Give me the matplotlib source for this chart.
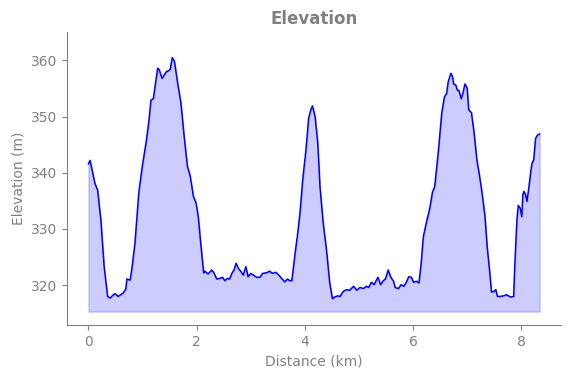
import matplotlib
matplotlib.use("Agg")
import matplotlib.pyplot as plt

distance_km = [0.00, 0.03, 0.12, 0.17, 0.23, 0.29, 0.355, 0.40, 0.45, 0.49, 0.55, 0.64, 0.69, 0.71, 0.77,
               0.80, 0.86, 0.93, 0.99, 1.06, 1.07, 1.12, 1.155, 1.20, 1.23, 1.28, 1.31, 1.36, 1.40, 1.44,
               1.49, 1.51, 1.55, 1.59, 1.65, 1.71, 1.77, 1.83, 1.88, 1.94, 1.99, 2.03, 2.07, 2.13, 2.15,
               2.21, 2.28, 2.32, 2.37, 2.42, 2.48, 2.52, 2.57, 2.61, 2.65, 2.69, 2.73, 2.77, 2.82, 2.86,
               2.91, 2.95, 3.00, 3.05, 3.11, 3.17, 3.22, 3.29, 3.35, 3.40, 3.46, 3.51, 3.57, 3.63, 3.68,
               3.72, 3.76, 3.82, 3.86, 3.91, 3.96, 4.02, 4.07, 4.11, 4.14, 4.19, 4.24, 4.28, 4.34, 4.40,
               4.46, 4.51, 4.55, 4.61, 4.65, 4.71, 4.77, 4.83, 4.90, 4.96, 5.02, 5.08, 5.14, 5.18, 5.23,
               5.28, 5.35, 5.40, 5.45, 5.49, 5.54, 5.59, 5.64, 5.67, 5.73, 5.78, 5.83, 5.88, 5.92, 5.97,
               6.01, 6.06, 6.11, 6.15, 6.19, 6.25, 6.31, 6.36, 6.40, 6.47, 6.53, 6.58, 6.62, 6.65, 6.70,
               6.73, 6.75, 6.79, 6.82, 6.85, 6.89, 6.92, 6.96, 7.00, 7.03, 7.08, 7.13, 7.18, 7.22, 7.26,
               7.30, 7.33, 7.37, 7.42, 7.45, 7.50, 7.53, 7.56, 7.61, 7.67, 7.73, 7.78, 7.82, 7.86, 7.88,
               7.92, 7.945, 7.98, 8.01, 8.03, 8.05, 8.08, 8.105, 8.14, 8.18, 8.20, 8.23, 8.265, 8.30, 8.34]

elevation_m = [341.6, 342.2, 338.1, 336.9, 331.6, 323.3, 318.0, 317.7, 318.2, 318.5, 318.0, 318.6, 319.3, 321.1, 320.9,
               322.7, 327.5, 336.4, 340.8, 345.2, 345.7, 349.4, 352.9, 353.2, 355.3, 358.6, 358.3, 356.8, 357.4, 358.0,
               358.2, 358.4, 360.5, 359.8, 355.9, 352.4, 346.4, 341.1, 339.5, 335.8, 334.6, 332.2, 328.0, 322.2, 322.5,
               322.0, 322.7, 322.2, 321.1, 321.2, 321.4, 320.8, 321.2, 321.1, 322.1, 322.7, 323.9, 323.0, 322.4, 321.8,
               323.3, 321.5, 322.1, 321.8, 321.4, 321.4, 322.1, 322.2, 322.5, 322.1, 322.3, 321.9, 321.2, 320.6, 321.1,
               320.8, 320.8, 325.7, 328.6, 332.8, 338.7, 344.0, 349.7, 351.2, 351.9, 350.0, 345.2, 337.5, 331.0, 326.3,
               320.4, 317.6, 317.9, 318.1, 318.0, 318.9, 319.2, 319.1, 319.8, 319.1, 319.6, 319.4, 319.8, 319.6, 320.5,
               320.1, 321.4, 320.1, 320.8, 321.1, 322.7, 321.4, 320.7, 319.6, 319.4, 320.1, 319.8, 320.6, 321.5, 321.4,
               320.5, 320.7, 320.4, 323.9, 328.6, 331.3, 333.7, 336.6, 337.5, 344.0, 350.6, 353.5, 354.1, 356.2, 357.7,
               357.1, 355.8, 355.6, 354.7, 354.6, 353.2, 354.1, 355.8, 355.1, 351.2, 350.7, 347.0, 342.3, 340.0, 337.5,
               334.6, 332.2, 326.9, 322.1, 318.8, 318.9, 319.2, 318.0, 318.0, 318.1, 318.3, 318.0, 317.9, 318.0, 323.3,
               331.6, 334.2, 333.7, 332.2, 336.1, 336.7, 336.1, 334.9, 337.3, 340.5, 341.7, 342.3, 346.1, 346.7, 346.9]

fill_base_m = 315.3
x_ticks = [0, 2, 4, 6, 8]
y_ticks = [320, 330, 340, 350, 360]

gray = "#808080"
fig = plt.figure(figsize=(5.71, 3.78), dpi=100)
ax = fig.add_axes([0.117, 0.140, 0.865, 0.7746])

ax.fill_between(distance_km, elevation_m, fill_base_m, color="blue", alpha=0.2)
ax.plot(distance_km, elevation_m, color="blue", lw=1.1)

ax.set_xlim(-0.40, 8.73)
ax.set_ylim(312.9, 365)
ax.set_xticks(x_ticks)
ax.set_yticks(y_ticks)
ax.set_title("Elevation", fontsize=12, fontweight="bold", color=gray)
ax.set_xlabel("Distance (km)", fontsize=10, color=gray)
ax.set_ylabel("Elevation (m)", fontsize=10, color=gray)
ax.tick_params(colors=gray, labelsize=10)
for s in ["top", "right"]:
    ax.spines[s].set_visible(False)
for s in ["left", "bottom"]:
    ax.spines[s].set_color(gray)

fig.savefig("out.png", dpi=100)
